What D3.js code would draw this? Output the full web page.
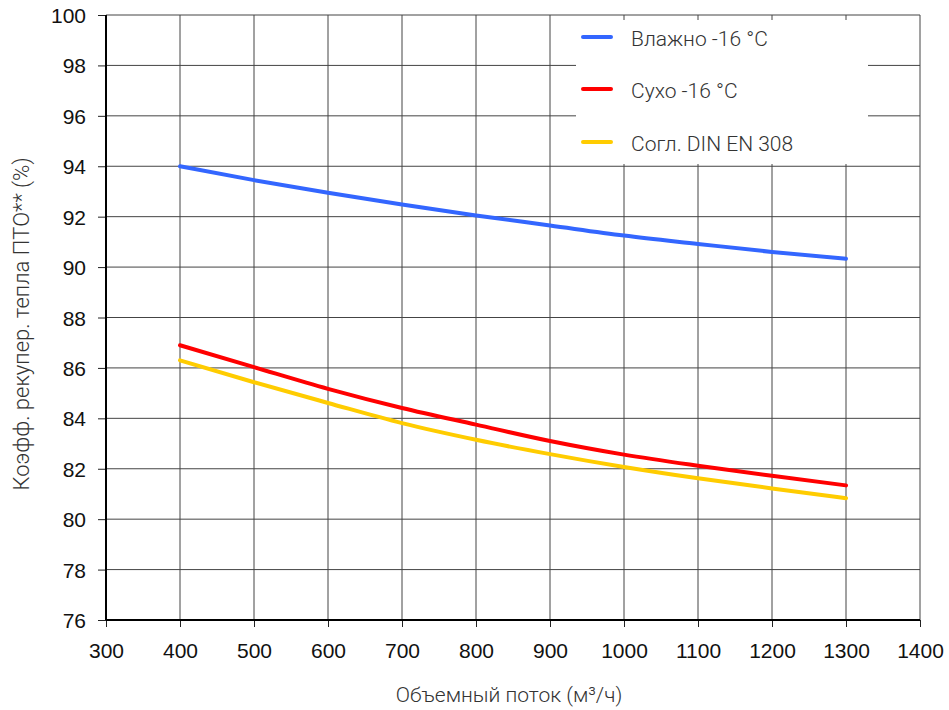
<!DOCTYPE html>
<html lang="ru">
<head>
    <meta charset="UTF-8">
    <title>Коэфф. рекупер. тепла</title>
    <script src="https://d3js.org/d3.v7.min.js"></script>
    <style>
        body {
            margin: 0;
            padding: 0;
            background-color: #ffffff;
        }
        .tick-label {
            font-family: "Liberation Sans", Arial, sans-serif;
            font-size: 21px;
            fill: #111;
        }
        .axis-title {
            font-family: Roboto, "Open Sans", sans-serif;
            font-weight: 300;
            font-size: 21px;
            fill: #333;
        }
        .legend-text {
            font-family: Roboto, "Open Sans", sans-serif;
            font-weight: 300;
            font-size: 21px;
            fill: #333;
        }
    </style>
</head>
<body>
    <div id="chart"></div>

    <script>
        // x values (m3/h)
        const flow = [400, 500, 600, 700, 800, 900, 1000, 1100, 1200, 1300];

        // series (%)
        const wet = [94.0, 93.45, 92.95, 92.48, 92.05, 91.65, 91.25, 90.92, 90.6, 90.33];
        const dry = [86.9, 86.03, 85.17, 84.41, 83.75, 83.1, 82.56, 82.12, 81.72, 81.34];
        const din = [86.3, 85.43, 84.61, 83.81, 83.15, 82.58, 82.07, 81.62, 81.22, 80.83];

        const seriesNames = ["Влажно -16 °C", "Сухо -16 °C", "Согл. DIN EN 308"];
        const seriesColors = ["#3366ff", "#ff0000", "#ffcc00"];

        const xTicks = [300, 400, 500, 600, 700, 800, 900, 1000, 1100, 1200, 1300, 1400];
        const yTicks = [76, 78, 80, 82, 84, 86, 88, 90, 92, 94, 96, 98, 100];

        const width = 949, height = 710;
        const margin = {top: 15, right: 29, bottom: 90, left: 106};

        const svg = d3.select("#chart")
            .append("svg")
            .attr("width", width)
            .attr("height", height);

        const x = d3.scaleLinear()
            .domain([300, 1400])
            .range([margin.left, width - margin.right]);

        const y = d3.scaleLinear()
            .domain([76, 100])
            .range([height - margin.bottom, margin.top]);

        // grid
        const grid = svg.append("g");
        grid.selectAll("line.v")
            .data(xTicks)
            .enter().append("line")
            .attr("x1", d => x(d)).attr("x2", d => x(d))
            .attr("y1", y(100)).attr("y2", y(76))
            .attr("stroke", "#444")
            .attr("stroke-width", 1);
        grid.selectAll("line.h")
            .data(yTicks)
            .enter().append("line")
            .attr("x1", x(300)).attr("x2", x(1400))
            .attr("y1", d => y(d)).attr("y2", d => y(d))
            .attr("stroke", "#444")
            .attr("stroke-width", 1);

        // axes
        const xAxis = d3.axisBottom(x).tickValues(xTicks).tickSize(7).tickPadding(10).tickFormat(d3.format("d"));
        const yAxis = d3.axisLeft(y).tickValues(yTicks).tickSize(8).tickPadding(12).tickFormat(d3.format("d"));

        const gx = svg.append("g")
            .attr("transform", `translate(0,${y(76)})`)
            .call(xAxis);
        const gy = svg.append("g")
            .attr("transform", `translate(${x(300)},0)`)
            .call(yAxis);

        [gx, gy].forEach(g => {
            g.select(".domain").remove();
            g.selectAll(".tick line").attr("stroke", "#222");
            g.selectAll(".tick text").attr("class", "tick-label");
        });
        gx.selectAll(".tick text").attr("dy", "0.98em");
        gy.selectAll(".tick text").attr("dy", "0.36em");

        // frame
        svg.append("line")
            .attr("x1", x(300)).attr("x2", x(300))
            .attr("y1", y(100)).attr("y2", y(76))
            .attr("stroke", "#000").attr("stroke-width", 2);
        svg.append("line")
            .attr("x1", x(300)).attr("x2", x(1400))
            .attr("y1", y(76)).attr("y2", y(76))
            .attr("stroke", "#000").attr("stroke-width", 2);

        // legend background covers the grid
        svg.append("rect")
            .attr("x", 576)
            .attr("y", 20)
            .attr("width", 292)
            .attr("height", 144)
            .attr("fill", "#fff");

        // curves
        const line = d3.line()
            .x((d, i) => x(flow[i]))
            .y(d => y(d))
            .curve(d3.curveMonotoneX);

        [wet, dry, din].forEach((s, i) => {
            svg.append("path")
                .datum(s)
                .attr("d", line)
                .attr("fill", "none")
                .attr("stroke", seriesColors[i])
                .attr("stroke-width", 4)
                .attr("stroke-linecap", "round");
        });

        // legend
        const legend = svg.append("g");
        const legendY = [37, 89, 142];
        seriesNames.forEach((name, i) => {
            legend.append("line")
                .attr("x1", 583).attr("x2", 611)
                .attr("y1", legendY[i]).attr("y2", legendY[i])
                .attr("stroke", seriesColors[i])
                .attr("stroke-width", 4)
                .attr("stroke-linecap", "round");
            legend.append("text")
                .attr("class", "legend-text")
                .attr("x", 631)
                .attr("y", legendY[i] + 9)
                .text(name);
        });

        // axis titles
        svg.append("text")
            .attr("class", "axis-title")
            .attr("text-anchor", "middle")
            .attr("x", (x(300) + x(1400)) / 2 - 4)
            .attr("y", 702)
            .text("Объемный поток (м³/ч)");

        svg.append("text")
            .attr("class", "axis-title")
            .attr("text-anchor", "middle")
            .style("font-size", "22px")
            .attr("transform", `translate(29,${324}) rotate(-90)`)
            .text("Коэфф. рекупер. тепла ПТО** (%)");
    </script>
</body>
</html>
